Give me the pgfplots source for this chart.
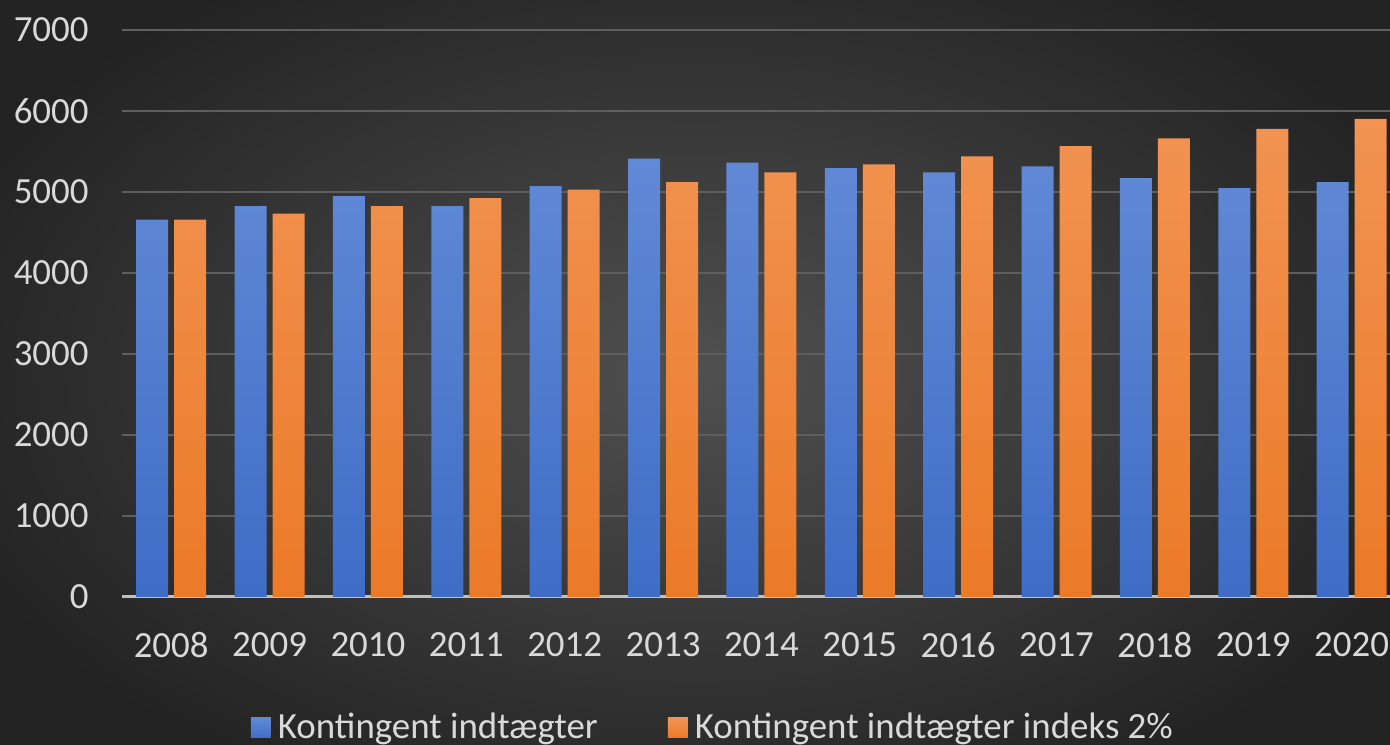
\documentclass[border=0pt]{standalone}
\usepackage{pgfplots}
\pgfplotsset{compat=1.18}
\usepackage{fontspec}
\setmainfont{Carlito}

\definecolor{bgin}{HTML}{505050}
\definecolor{bgout}{HTML}{232323}
\definecolor{gridc}{HTML}{5E5E5E}
\definecolor{basec}{HTML}{BFBFBF}
\definecolor{labc}{HTML}{D9D9D9}
\definecolor{bluetop}{HTML}{6189D6}
\definecolor{bluebot}{HTML}{3F6DC6}
\definecolor{orgtop}{HTML}{F29352}
\definecolor{orgbot}{HTML}{EB7A28}

\begin{document}
\begin{tikzpicture}
\path[use as bounding box] (0,0) rectangle (139mm,74.4mm);
\shade[inner color=bgin, outer color=bgout] (-10mm,-10mm) rectangle (149mm,84.4mm);
\begin{axis}[
    at={(12.2mm,14.7mm)}, anchor=south west,
    scale only axis,
    width=126.8mm, height=56.7mm,
    ybar=0.6mm, bar width=3.2mm,
    xmin=-0.5, xmax=12.39,
    ymin=0, ymax=7000,
    xtick={0,...,12},
    xticklabels={2008,2009,2010,2011,2012,2013,2014,2015,2016,2017,2018,2019,2020},
    ytick={0,1000,...,7000},
    scaled y ticks=false,
    /pgf/number format/1000 sep={},
    /pgf/number format/assume math mode=true,
    ymajorgrids,
    major grid style={draw=gridc, line width=0.25mm},
    axis x line*=bottom, axis y line*=left,
    x axis line style={draw=basec, line width=0.3mm, -},
    y axis line style={draw=none},
    tick style={draw=none},
    ticklabel style={text=labc, font=\fontsize{10.5}{12}\selectfont},
    xticklabel style={yshift=-0.8mm},
    yticklabel style={xshift=-2.1mm},
    legend style={at={(0.468,-0.231)}, anchor=center, draw=none, fill=none,
        text=labc, font=\fontsize{10.5}{12}\selectfont,
        legend columns=2,
        /tikz/every even column/.append style={column sep=6.3mm}},
    legend image code/.code={\fill[#1] (0mm,-1mm) rectangle (2mm,1mm);},
]
\addplot[draw=none, top color=bluetop, bottom color=bluebot] coordinates {
(0,4660) (1,4827) (2,4950) (3,4827) (4,5074) (5,5411) (6,5362)
(7,5296) (8,5243) (9,5316) (10,5172) (11,5049) (12,5123)};
\addlegendentry{Kontingent indtægter}
\addplot[draw=none, top color=orgtop, bottom color=orgbot] coordinates {
(0,4660) (1,4733) (2,4827) (3,4926) (4,5029) (5,5123) (6,5243)
(7,5341) (8,5440) (9,5567) (10,5662) (11,5781) (12,5904)};
\addlegendentry{Kontingent indtægter indeks 2\%}
\end{axis}
\end{tikzpicture}
\end{document}
